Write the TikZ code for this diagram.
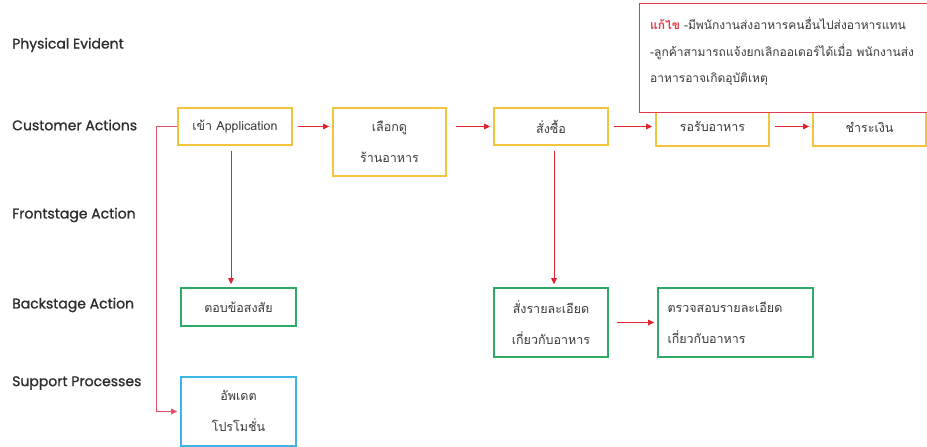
\documentclass[tikz,border=0pt]{standalone}
\usepackage{fontspec}
\setmainfont{Poppins}
\newfontfamily\lanefont{Poppins}[FakeBold=1.2]
\newfontfamily\thaifont[Script=Thai]{Loma}
\usetikzlibrary{arrows.meta}
\definecolor{txt}{HTML}{3A3A3A}
\definecolor{lbl}{HTML}{2E2E2E}
\definecolor{ylw}{HTML}{F2C53D}
\definecolor{grn}{HTML}{2EAA66}
\definecolor{cyn}{HTML}{3DB5E6}
\definecolor{arr}{HTML}{E0242E}
\definecolor{lnk}{HTML}{E25068}
\definecolor{rbx}{HTML}{E23A48}
\tikzset{
  lane/.style={anchor=west, font=\lanefont\fontsize{14}{16}\selectfont, text=lbl, inner sep=0pt},
  box/.style={draw, line width=1.6pt, fill=white, text=txt, align=center, inner sep=2pt,
     font=\thaifont\fontsize{12.5}{31}\selectfont},
  ybox/.style={box, draw=ylw},
  gbox/.style={box, draw=grn},
  cbox/.style={box, draw=cyn},
  conn/.style={draw=arr, line width=1pt, -{Triangle[length=6pt,width=5.5pt]}, shorten >=3pt},
}
\begin{document}
\begin{tikzpicture}[x=1pt,y=-1pt]
\useasboundingbox (0,0) rectangle (927,447);
% lane labels
\node[lane] (l1) at (12,45) {Physical Evident};
\node[lane] (l2) at (12,125) {Customer Actions};
\node[lane] (l3) at (12,215) {Frontstage Action};
\node[lane] (l4) at (12,305) {Backstage Action};
\node[lane] (l5) at (12,383) {Support Processes};
% boxes
\node[ybox, minimum width=114pt, minimum height=37pt] (b1) at (235,126.5) {เข้า Application};
\node[ybox, minimum width=113pt, minimum height=68pt] (b2) at (389.5,142) {เลือกดู\\ร้านอาหาร};
\node[ybox, minimum width=114pt, minimum height=37pt] (b3) at (551,126.5) {สั่งซื้อ};
\node[ybox, minimum width=113pt, minimum height=38pt] (b4) at (712.5,127) {รอรับอาหาร};
\node[ybox, minimum width=113pt, minimum height=38pt] (b5) at (869.5,127) {ชำระเงิน};
\node[gbox, minimum width=115pt, minimum height=38pt] (b6) at (238.5,307) {ตอบข้อสงสัย};
\node[gbox, minimum width=114pt, minimum height=69pt] (b7) at (551,322.5) {สั่งรายละเอียด\\เกี่ยวกับอาหาร};
\node[gbox, minimum width=155pt, minimum height=69pt, align=left, text width=136pt] (b8) at (735.5,322.5) {ตรวจสอบรายละเอียด\\เกี่ยวกับอาหาร};
\node[cbox, minimum width=115pt, minimum height=69pt] (b9) at (238.5,411.5) {อัพเดต\\โปรโมชั่น};
% connectors
\draw[conn, shorten <=5pt] (b1.east) -- (b2.west |- b1.east);
\draw[conn, shorten <=9pt] (b2.east |- b1.east) -- (b3.west);
\draw[conn, shorten <=5pt] (b3.east) -- (b4.west |- b3.east);
\draw[conn, shorten <=5pt] (b4.east |- b3.east) -- (b5.west |- b3.east);
\draw[conn, shorten <=5pt] ([xshift=-4pt]b1.south) -- ([xshift=-4pt]b1.south |- b6.north);
\draw[conn, shorten <=5pt] ([xshift=3pt]b3.south) -- ([xshift=3pt]b3.south |- b7.north);
\draw[conn, shorten <=8pt] (b7.east) -- (b8.west);
\draw[conn, draw=lnk] (b1.west) -- ++(-21,0) |- (b9.west);
% note box
\node[draw=rbx, line width=1.3pt, fill=white, anchor=north west, minimum width=300pt, minimum height=109pt,
      text width=280pt, align=left, inner xsep=10pt, inner ysep=13pt, text=txt,
      font=\thaifont\fontsize{12}{26.5}\selectfont] (note) at (639,3) {};
\node[anchor=north west, text width=280pt, align=left, inner sep=0pt, text=txt,
      font=\thaifont\fontsize{12}{26.5}\selectfont] (notetext) at ([xshift=11pt,yshift=-14pt]note.north west)
  {{\color{rbx}\bfseries แก้ไข} -มีพนักงานส่งอาหารคนอื่นไปส่งอาหารแทน\\-ลูกค้าสามารถแจ้งยกเลิกออเดอร์ได้เมื่อ พนักงานส่ง\\อาหารอาจเกิดอุบัติเหตุ};
\end{tikzpicture}
\end{document}
